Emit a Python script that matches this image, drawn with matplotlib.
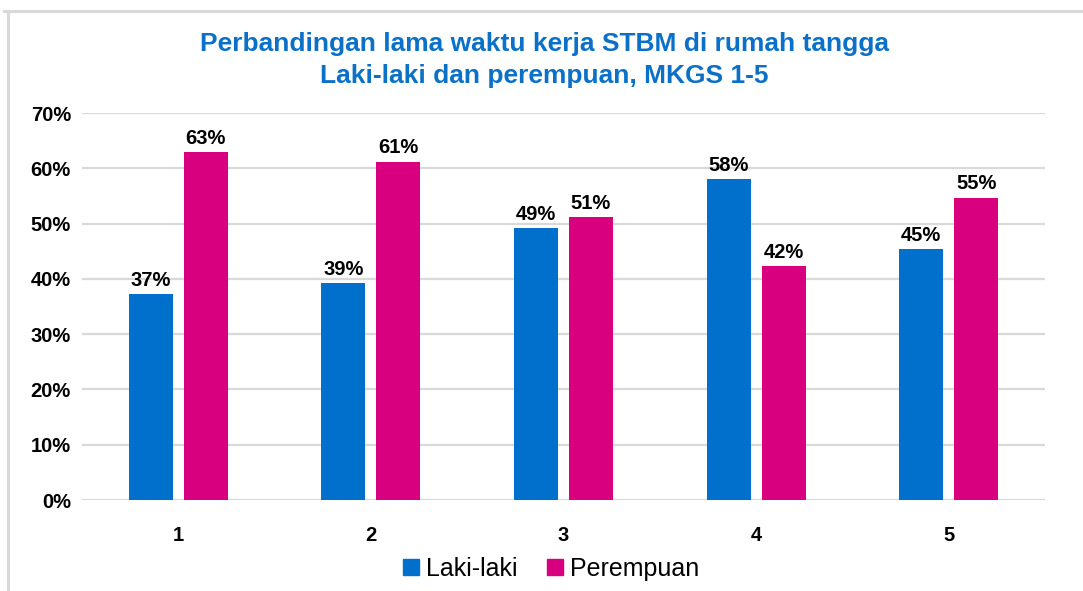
import matplotlib
matplotlib.use("Agg")
import matplotlib.pyplot as plt
from matplotlib.lines import Line2D
import numpy as np

categories = ["1", "2", "3", "4", "5"]
laki = [37.3, 39.2, 49.2, 58.0, 45.4]
perempuan = [62.9, 61.2, 51.1, 42.3, 54.7]
series_names = ["Laki-laki", "Perempuan"]
yticks = [0, 10, 20, 30, 40, 50, 60, 70]

BLUE = "#0070CC"
PINK = "#D9007F"
GRID = "#D9D9D9"
TITLE_C = "#0A70C8"

plt.rcParams['font.family'] = ['Liberation Sans', 'DejaVu Sans']

fig = plt.figure(figsize=(10.83, 5.91), dpi=100)
ax = fig.add_axes([82/1083, 91/591, 963/1083, 387/591])

x = np.arange(len(categories))
w = 0.228
off = 0.1425
b1 = ax.bar(x - off, laki, w, color=BLUE, zorder=3)
b2 = ax.bar(x + off, perempuan, w, color=PINK, zorder=3)

for bars, vals in ((b1, laki), (b2, perempuan)):
    for r, v in zip(bars, vals):
        ax.annotate(f"{round(v):d}%", (r.get_x() + r.get_width()/2, r.get_height()),
                    xytext=(0, 3), textcoords="offset points", ha="center", va="bottom",
                    fontsize=14.5, fontweight="bold", color="black")

ax.set_xlim(-0.5, len(categories) - 0.5)
ax.set_ylim(0, 70)
ax.set_yticks(yticks)
ax.set_yticklabels([f"{t}%" for t in yticks])
ax.set_xticks(x)
ax.set_xticklabels(categories)
ax.tick_params(axis="y", length=0, pad=8, labelsize=14.5)
ax.tick_params(axis="x", length=0, pad=19, labelsize=14.5)
for lab in ax.get_xticklabels() + ax.get_yticklabels():
    lab.set_fontweight("bold")
ax.grid(axis="y", color=GRID, linewidth=1.6, zorder=0)
ax.set_axisbelow(True)
for s in ax.spines.values():
    s.set_visible(False)

fig.text(0.503, 1 - 44/591, "Perbandingan lama waktu kerja STBM di rumah tangga",
         ha="center", va="center", fontsize=19, fontweight="bold", color=TITLE_C)
fig.text(0.503, 1 - 76/591, "Laki-laki dan perempuan, MKGS 1-5",
         ha="center", va="center", fontsize=19, fontweight="bold", color=TITLE_C)

# frame (top and left edges)
fig.add_artist(Line2D([4/1083, 1.0], [1 - 11/591, 1 - 11/591], color=GRID, linewidth=2.2))
fig.add_artist(Line2D([8/1083, 8/1083], [0, 1 - 11/591], color=GRID, linewidth=2.2))

handles = [Line2D([], [], marker="s", linestyle="none", markersize=12, color=BLUE),
           Line2D([], [], marker="s", linestyle="none", markersize=12, color=PINK)]
fig.legend(handles, series_names, loc="center", bbox_to_anchor=(551/1083, 1 - 569/591),
           ncol=2, frameon=False, fontsize=18, handlelength=0.6, handletextpad=0.3,
           columnspacing=1.2, borderpad=0)

fig.savefig("out.png", dpi=100, facecolor="white")
